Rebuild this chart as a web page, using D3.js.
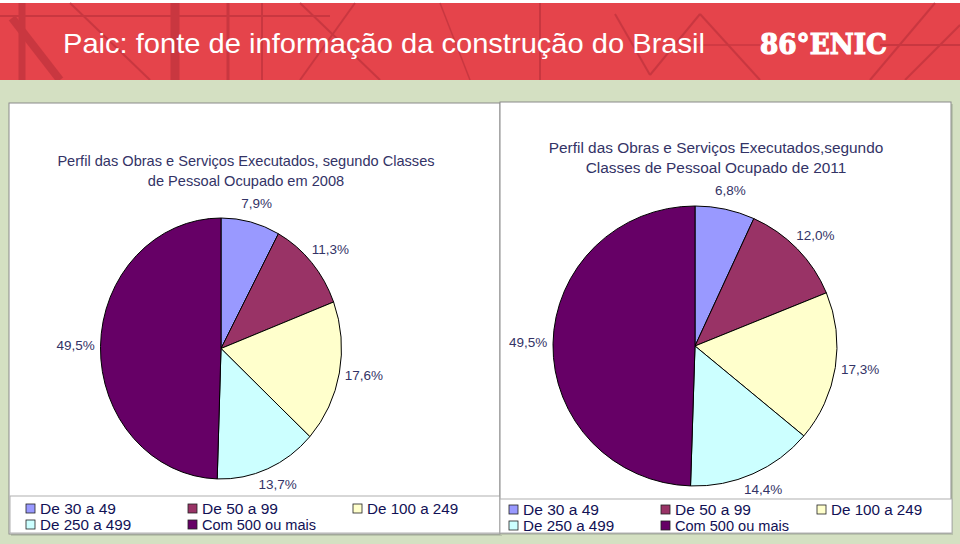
<!DOCTYPE html>
<html><head><meta charset="utf-8">
<script src="https://cdn.jsdelivr.net/npm/d3@7"></script>
<style>body{margin:0;background:#fff}svg{display:block}text{font-family:"Liberation Sans",Arial,sans-serif}</style>
</head><body><svg id="c" width="960" height="544"></svg>
<script>
const categories = ["De 30 a 49","De 50 a 99","De 100 a 249","De 250 a 499","Com 500 ou mais"];
const values2008 = [7.9, 11.3, 17.6, 13.7, 49.5];
const values2011 = [6.8, 12.0, 17.3, 14.4, 49.5];
const title2008 = ["Perfil das Obras e Serviços Executados, segundo Classes","de Pessoal Ocupado em 2008"];
const title2011 = ["Perfil das Obras e Serviços Executados,segundo","Classes de Pessoal Ocupado de 2011"];
const colors = ["#9999FF","#993366","#FFFFCC","#CCFFFF","#660066"];
const mainTitle = "Paic: fonte de informação da construção do Brasil";

const svg = d3.select("#c");
const ptBR = d3.formatLocale({decimal:",", thousands:".", grouping:[3], currency:["R$",""]});
const fmt = v => ptBR.format(".1f")(v) + "%";
const color = d3.scaleOrdinal().domain(categories).range(colors);

// header
svg.append("rect").attr("x",0).attr("y",3).attr("width",960).attr("height",77).attr("fill","#E5444B");
const deco = svg.append("g").attr("stroke","#B8303A").attr("fill","none").attr("opacity",0.6);
[
 [[22,3],[22,80],7],[[12,18],[60,80],8],[[175,3],[175,80],9],[[228,3],[228,80],3],[[262,3],[262,80],2],
 [[70,3],[150,80],2],[[0,16],[330,16],2],[[300,3],[380,80],2],[[355,3],[300,80],2],
 [[615,14],[650,75],2],[[650,75],[700,14],2],[[700,14],[760,80],2],[[935,3],[870,80],2],
 [[880,45],[960,45],2],[[690,45],[760,45],1.5],[[540,3],[540,80],2],[[440,3],[470,80],1.5],[[960,25],[905,80],2]
].forEach(([a,b,w])=>deco.append("line").attr("x1",a[0]).attr("y1",a[1]).attr("x2",b[0]).attr("y2",b[1]).attr("stroke-width",w));
svg.append("text").attr("x",63).attr("y",53).attr("fill","#fff").attr("font-size",28).attr("textLength",642).attr("lengthAdjust","spacingAndGlyphs").text(mainTitle);
svg.append("text").attr("x",760).attr("y",54).attr("fill","#fff").attr("stroke","#fff").attr("stroke-width",1.2).attr("font-size",28).attr("font-weight","bold")
  .style("font-family","'DejaVu Serif',serif").attr("textLength",127).attr("lengthAdjust","spacingAndGlyphs").text("86°ENIC");

// green band
svg.append("rect").attr("x",0).attr("y",80).attr("width",960).attr("height",464).attr("fill","#D4E0C2");

function panel(cfg){
  const g = svg.append("g");
  g.append("rect").attr("x",cfg.x+2).attr("y",cfg.y+2).attr("width",cfg.w).attr("height",cfg.h).attr("fill","#b9c4ab");
  g.append("rect").attr("x",cfg.x).attr("y",cfg.y).attr("width",cfg.w).attr("height",cfg.h).attr("fill","#fff").attr("stroke","#8a8a8a");
  g.append("rect").attr("x",cfg.lx).attr("y",cfg.ly).attr("width",cfg.lw).attr("height",cfg.lh).attr("fill","#fff").attr("stroke","#b0b0b0");
  cfg.title.forEach((t,i)=>g.append("text").attr("x",cfg.tx).attr("y",cfg.ty+i*20).attr("text-anchor","middle")
     .attr("font-size",cfg.tfs).attr("fill","#333366").text(t));
  const pie = d3.pie().sort(null).value(d=>d.v).startAngle(0);
  const data = pie(cfg.values.map((v,i)=>({v,c:categories[i]})));
  const R = 100;
  const arc = d3.arc().innerRadius(0).outerRadius(R);
  const pg = g.append("g").attr("transform",`translate(${cfg.cx},${cfg.cy}) scale(${cfg.rx/R},${cfg.ry/R})`);
  pg.selectAll("path").data(data).join("path").attr("d",arc).attr("fill",d=>color(d.data.c))
    .attr("stroke","#000").attr("stroke-width",1).attr("vector-effect","non-scaling-stroke");
  const mid = d => (d.startAngle+d.endAngle)/2;
  g.selectAll("text.lbl").data(data).join("text").attr("class","lbl")
    .attr("x",d=>cfg.cx+Math.sin(mid(d))*(cfg.rx+25))
    .attr("y",d=>cfg.cy-Math.cos(mid(d))*(cfg.ry+18))
    .attr("text-anchor","middle").attr("dominant-baseline","middle").attr("font-size",13.5).attr("fill","#333366")
    .text(d=>fmt(d.data.v));
  const lg = g.append("g");
  categories.forEach((c,i)=>{
    const col=i%3,row=Math.floor(i/3);
    const x=cfg.legX[col], y=cfg.legY[row];
    lg.append("rect").attr("x",x).attr("y",y-10).attr("width",9).attr("height",9).attr("fill",color(c)).attr("stroke","#222").attr("stroke-width",0.8);
    lg.append("text").attr("x",x+14).attr("y",y).attr("font-size",15.2).attr("fill","#111155")
      .attr("textLength",c.length*7.6).attr("lengthAdjust","spacingAndGlyphs").text(c);
  });
}
panel({x:9,y:103,w:491,h:431,lx:10,ly:496,lw:490,lh:37,title:title2008,tx:246,ty:166,tfs:14.6,
  values:values2008,cx:221,cy:348.5,rx:120.5,ry:130.5,legX:[26,188,353],legY:[514,530]});
panel({x:500,y:102,w:451,h:431,lx:500,ly:499,lw:452,lh:34,title:title2011,tx:716,ty:153,tfs:15.4,
  values:values2011,cx:695,cy:346,rx:142,ry:140,legX:[509,661,817],legY:[515,531]});
</script></body></html>
